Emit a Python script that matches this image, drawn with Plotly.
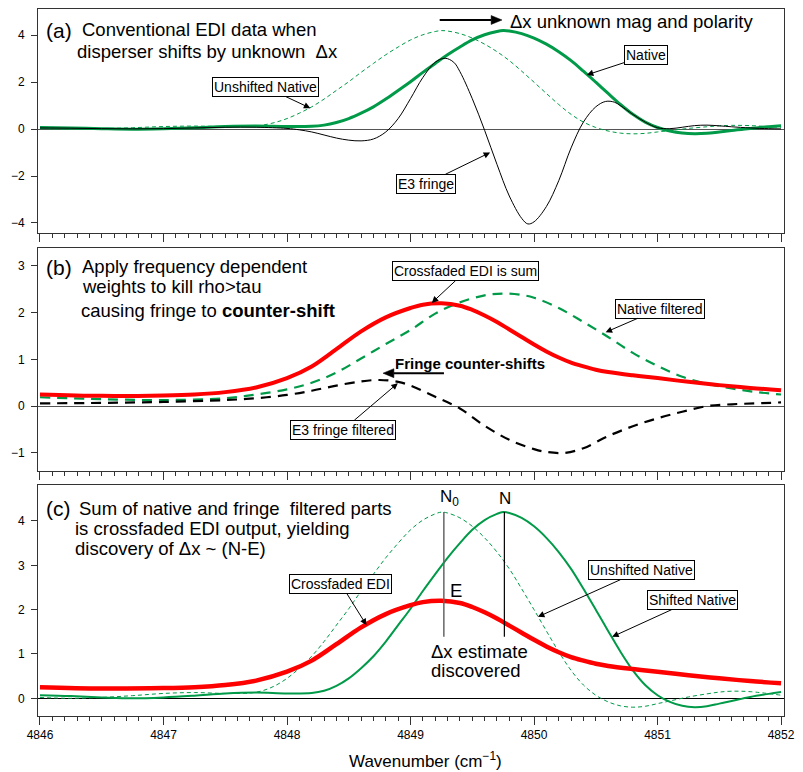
import plotly.graph_objects as go

# ---------------- data ----------------
# Native (shifted) spectrum, used in panels (a) and (c)
native_x = [4846.0, 4846.25, 4846.5, 4846.75, 4847.0, 4847.25, 4847.5, 4847.75, 4848.0, 4848.2,
            4848.3, 4848.4, 4848.5, 4848.6, 4848.7, 4848.8, 4848.9, 4849.0, 4849.1, 4849.2,
            4849.3, 4849.4, 4849.5, 4849.6, 4849.7, 4849.75, 4849.8, 4849.9, 4850.0, 4850.1,
            4850.2, 4850.3, 4850.4, 4850.5, 4850.6, 4850.7, 4850.8, 4850.9, 4851.0, 4851.1,
            4851.2, 4851.3, 4851.4, 4851.5, 4851.6, 4851.75, 4851.9, 4852.0]
native_y = [0.07, 0.05, 0.02, 0.0, 0.02, 0.06, 0.11, 0.13, 0.11, 0.12,
            0.17, 0.28, 0.45, 0.68, 0.95, 1.28, 1.65, 2.02, 2.42, 2.8,
            3.17, 3.5, 3.8, 4.02, 4.16, 4.2, 4.18, 4.07, 3.88, 3.62,
            3.3, 2.92, 2.47, 2.0, 1.52, 1.05, 0.63, 0.3, 0.07, -0.08,
            -0.17, -0.2, -0.18, -0.12, -0.06, 0.03, 0.1, 0.14]

# Unshifted native spectrum (thin dashed), panels (a) and (c)
unshifted_x = [4846.0, 4846.25, 4846.5, 4846.75, 4847.0, 4847.25, 4847.5, 4847.7, 4847.8, 4847.9,
               4848.0, 4848.1, 4848.2, 4848.3, 4848.4, 4848.5, 4848.6, 4848.7, 4848.8, 4848.9,
               4849.0, 4849.1, 4849.2, 4849.25, 4849.3, 4849.4, 4849.5, 4849.6, 4849.7, 4849.8,
               4849.9, 4850.0, 4850.1, 4850.2, 4850.3, 4850.4, 4850.5, 4850.6, 4850.7, 4850.8,
               4850.9, 4851.0, 4851.1, 4851.25, 4851.4, 4851.5, 4851.6, 4851.75, 4852.0]
unshifted_y = [0.02, 0.0, 0.02, 0.06, 0.11, 0.13, 0.11, 0.12, 0.17, 0.28,
               0.45, 0.68, 0.95, 1.28, 1.65, 2.02, 2.42, 2.8, 3.17, 3.5,
               3.8, 4.02, 4.16, 4.2, 4.18, 4.07, 3.88, 3.62, 3.3, 2.92,
               2.47, 2.0, 1.52, 1.05, 0.63, 0.3, 0.07, -0.08, -0.17, -0.2,
               -0.18, -0.12, -0.06, 0.03, 0.1, 0.14, 0.16, 0.15, 0.07]

# E3 fringe, panel (a)
fringe_x = [4846.0, 4846.25, 4846.5, 4846.75, 4847.0, 4847.25, 4847.5, 4847.75, 4848.0, 4848.1,
            4848.2, 4848.3, 4848.4, 4848.5, 4848.6, 4848.7, 4848.8, 4848.9, 4849.0, 4849.1,
            4849.2, 4849.28, 4849.35, 4849.4, 4849.5, 4849.6, 4849.7, 4849.8, 4849.9, 4849.95,
            4850.0, 4850.1, 4850.2, 4850.3, 4850.4, 4850.5, 4850.58, 4850.65, 4850.7, 4850.8,
            4850.9, 4851.0, 4851.1, 4851.2, 4851.3, 4851.4, 4851.5, 4851.6, 4851.75, 4851.9, 4852.0]
fringe_y = [0.05, 0.04, 0.02, 0.01, 0.02, 0.05, 0.08, 0.08, 0.03, -0.03,
            -0.12, -0.25, -0.38, -0.47, -0.5, -0.42, -0.12, 0.45, 1.3, 2.2,
            2.85, 3.02, 2.85, 2.45, 1.3, -0.05, -1.5, -2.85, -3.8, -4.04,
            -3.95, -3.3, -2.2, -0.8, 0.3, 0.95, 1.18, 1.15, 1.0, 0.63,
            0.3, 0.06, 0.02, 0.08, 0.15, 0.17, 0.14, 0.1, 0.05, 0.02, 0.01]

# Crossfaded EDI (sum), panels (b) and (c)
cross_x = [4846.0, 4846.5, 4847.0, 4847.25, 4847.5, 4847.75, 4848.0, 4848.2, 4848.4, 4848.6,
           4848.8, 4849.0, 4849.1, 4849.25, 4849.4, 4849.5, 4849.6, 4849.7, 4849.8, 4849.9,
           4850.0, 4850.1, 4850.2, 4850.3, 4850.4, 4850.5, 4850.6, 4850.8, 4851.0, 4851.25,
           4851.5, 4851.75, 4852.0]
cross_y = [0.25, 0.22, 0.23, 0.25, 0.3, 0.4, 0.6, 0.85, 1.22, 1.6,
           1.9, 2.1, 2.17, 2.2, 2.15, 2.06, 1.94, 1.8, 1.64, 1.48,
           1.32, 1.17, 1.04, 0.93, 0.85, 0.78, 0.73, 0.66, 0.6, 0.52,
           0.45, 0.39, 0.34]

# Native filtered, panel (b)
natfilt_x = [4846.0, 4846.5, 4847.0, 4847.5, 4847.75, 4848.0, 4848.2, 4848.4, 4848.6, 4848.8,
             4849.0, 4849.2, 4849.4, 4849.6, 4849.75, 4849.9, 4850.0, 4850.2, 4850.4, 4850.6,
             4850.8, 4851.0, 4851.2, 4851.4, 4851.6, 4851.8, 4852.0]
natfilt_y = [0.19, 0.15, 0.13, 0.17, 0.25, 0.36, 0.5, 0.72, 1.02, 1.33,
             1.63, 1.98, 2.22, 2.37, 2.41, 2.38, 2.32, 2.1, 1.8, 1.48,
             1.14, 0.86, 0.63, 0.48, 0.38, 0.3, 0.25]

# E3 fringe filtered, panel (b)
frfilt_x = [4846.0, 4846.5, 4847.0, 4847.5, 4847.75, 4848.0, 4848.2, 4848.4, 4848.6, 4848.75,
            4848.9, 4849.0, 4849.2, 4849.4, 4849.6, 4849.8, 4850.0, 4850.1, 4850.25, 4850.4,
            4850.6, 4850.8, 4851.0, 4851.2, 4851.4, 4851.6, 4851.8, 4852.0]
frfilt_y = [0.06, 0.07, 0.09, 0.13, 0.17, 0.24, 0.33, 0.44, 0.53, 0.56,
            0.52, 0.44, 0.2, -0.05, -0.42, -0.72, -0.92, -0.98, -1.0, -0.9,
            -0.64, -0.43, -0.26, -0.12, 0.0, 0.04, 0.06, 0.08]

# Marker lines in panel (c): N0 (unshifted peak), N (shifted peak)
n0_pos = 4849.27
n_pos = 4849.76
marker_top = 4.2
marker_bottom = 1.39

x_ticks_major = 1
x_ticks_minor = 0.1

# ---------------- layout geometry ----------------
W, H = 803, 772
ML, MR, MT, MB = 38, 11, 8, 56
X_RANGE = [4845.984, 4852.024]
A_RANGE = [-4.413, 5.119]
B_RANGE = [-1.395, 3.385]
C_RANGE = [-0.399, 4.811]
A_PX = (8, 232)
B_PX = (247.3, 471)
C_PX = (484.7, 716)
PH = H - MT - MB


def dom(px):
    top, bot = px
    return [(H - MB - bot) / PH, (H - MB - top) / PH]


def wx(px):
    return X_RANGE[0] + (px - ML) / (W - ML - MR) * (X_RANGE[1] - X_RANGE[0])


def py2y(py, pxr, rng):
    top, bot = pxr
    return rng[1] - (py - top) / (bot - top) * (rng[1] - rng[0])


ya = lambda p: py2y(p, A_PX, A_RANGE)
yb = lambda p: py2y(p, B_PX, B_RANGE)
yc = lambda p: py2y(p, C_PX, C_RANGE)

FONT = "Liberation Sans, Arial, Helvetica, sans-serif"
GREEN = "#009a48"
RED = "#ff0000"
FRAME = "#333333"

fig = go.Figure()

# panel (a)
fig.add_trace(go.Scatter(x=unshifted_x, y=unshifted_y, xaxis="x", yaxis="y", mode="lines",
                         line=dict(color=GREEN, width=1, dash="4px,3px", shape="spline", smoothing=1)))
fig.add_trace(go.Scatter(x=native_x, y=native_y, xaxis="x", yaxis="y", mode="lines",
                         line=dict(color=GREEN, width=3, shape="spline", smoothing=1)))
fig.add_trace(go.Scatter(x=fringe_x, y=fringe_y, xaxis="x", yaxis="y", mode="lines",
                         line=dict(color="black", width=1, shape="spline", smoothing=1)))
# panel (b)
fig.add_trace(go.Scatter(x=natfilt_x, y=natfilt_y, xaxis="x2", yaxis="y2", mode="lines",
                         line=dict(color=GREEN, width=2.2, dash="10px,7px", shape="spline", smoothing=1)))
fig.add_trace(go.Scatter(x=frfilt_x, y=frfilt_y, xaxis="x2", yaxis="y2", mode="lines",
                         line=dict(color="black", width=2.2, dash="10px,7px", shape="spline", smoothing=1)))
fig.add_trace(go.Scatter(x=cross_x, y=cross_y, xaxis="x2", yaxis="y2", mode="lines",
                         line=dict(color=RED, width=4, shape="spline", smoothing=1)))
# panel (c)
fig.add_trace(go.Scatter(x=unshifted_x, y=unshifted_y, xaxis="x3", yaxis="y3", mode="lines",
                         line=dict(color=GREEN, width=1, dash="4px,3px", shape="spline", smoothing=1)))
fig.add_trace(go.Scatter(x=native_x, y=native_y, xaxis="x3", yaxis="y3", mode="lines",
                         line=dict(color=GREEN, width=2, shape="spline", smoothing=1)))
fig.add_trace(go.Scatter(x=cross_x, y=cross_y, xaxis="x3", yaxis="y3", mode="lines",
                         line=dict(color=RED, width=4.5, shape="spline", smoothing=1)))

# marker lines N0, N
fig.add_shape(type="line", xref="x3", yref="y3", x0=n0_pos, x1=n0_pos, y0=marker_bottom, y1=marker_top,
              line=dict(color="#666666", width=1.5))
fig.add_shape(type="line", xref="x3", yref="y3", x0=n_pos, x1=n_pos, y0=marker_bottom, y1=marker_top,
              line=dict(color="black", width=1.2))


def xaxis(anchor, labels):
    return dict(domain=[0, 1], anchor=anchor, range=X_RANGE, showgrid=False, zeroline=False,
                showline=True, mirror=True, linecolor=FRAME, linewidth=1,
                ticks="outside", ticklen=8, tickwidth=1, tickcolor=FRAME,
                tick0=4846, dtick=x_ticks_major, showticklabels=labels,
                tickfont=dict(size=12, color="black", family=FONT),
                minor=dict(dtick=x_ticks_minor, tick0=4846, ticks="outside", ticklen=4,
                           tickwidth=1, tickcolor=FRAME, showgrid=False))


def yaxis(anchor, rng, dt, px, zc):
    return dict(domain=dom(px), anchor=anchor, range=rng, showgrid=False,
                zeroline=True, zerolinecolor=zc, zerolinewidth=1,
                showline=True, mirror=True, linecolor=FRAME, linewidth=1,
                ticks="outside", ticklen=6, tickwidth=1, tickcolor=FRAME, dtick=dt,
                tickfont=dict(size=12, color="black", family=FONT), ticklabelstandoff=4)


fig.update_layout(
    width=W, height=H, margin=dict(l=ML, r=MR, t=MT, b=MB, pad=0),
    paper_bgcolor="white", plot_bgcolor="white", showlegend=False,
    font=dict(family=FONT, color="black"),
    xaxis=xaxis("y", False), xaxis2=xaxis("y2", False), xaxis3=xaxis("y3", True),
    yaxis=yaxis("x", A_RANGE, 2, A_PX, "#555555"),
    yaxis2=yaxis("x2", B_RANGE, 1, B_PX, "#555555"),
    yaxis3=yaxis("x3", C_RANGE, 1, C_PX, "black"),
)

ann = []


def text(s, px, py, yf, xr, yr, size=18.5, xanchor="left"):
    ann.append(dict(text=s, x=wx(px), y=yf(py), xref=xr, yref=yr, showarrow=False,
                    xanchor=xanchor, yanchor="middle", font=dict(size=size, family=FONT, color="black")))


def box(s, cx, cy, tx, ty, yf, xr, yr):
    ann.append(dict(text=s, x=wx(tx), y=yf(ty), xref=xr, yref=yr, showarrow=True,
                    ax=cx - tx, ay=cy - ty, axref="pixel", ayref="pixel",
                    arrowhead=2, arrowsize=1.3, arrowwidth=1, arrowcolor="black",
                    bgcolor="white", bordercolor="black", borderwidth=1, borderpad=1,
                    font=dict(size=14, family=FONT, color="black")))


def arrow(tx, ty, sx, yf, xr, yr, head=11, half=4.5, w=2):
    # horizontal arrow drawn as shapes: shaft line + filled triangular head
    d = 1 if tx > sx else -1
    base = tx - d * head
    fig.add_shape(type="line", xref=xr, yref=yr, x0=wx(sx), x1=wx(base), y0=yf(ty), y1=yf(ty),
                  line=dict(color="black", width=w))
    path = "M {} {} L {} {} L {} {} Z".format(wx(tx), yf(ty), wx(base), yf(ty - half),
                                             wx(base), yf(ty + half))
    fig.add_shape(type="path", xref=xr, yref=yr, path=path, fillcolor="black",
                  line=dict(color="black", width=0.5))


NB = "\u00a0"
# panel (a)
text("(a)", 44, 30, ya, "x", "y", size=21)
text("Conventional EDI data when", 80, 29, ya, "x", "y")
text("disperser shifts by unknown" + NB + NB + "Δx", 75, 51, ya, "x", "y")
arrow(507, 19, 444, ya, "x", "y")
text("Δx unknown mag and polarity", 513, 21, ya, "x", "y")
box("Native", 652, 54.5, 592.7, 74, ya, "x", "y")
box("Unshifted Native", 268, 86, 313.3, 107.3, ya, "x", "y")
box("E3 fringe", 430.7, 183, 495, 151.7, ya, "x", "y")
# panel (b)
text("(b)", 44, 267, yb, "x2", "y2", size=21)
text("Apply frequency dependent", 80, 266, yb, "x2", "y2")
text("weights to kill rho&gt;tau", 80, 286, yb, "x2", "y2")
text("causing fringe to <b>counter-shift</b>", 79, 309.5, yb, "x2", "y2")
box("Crossfaded EDI is sum", 470, 270.5, 436, 302.3, yb, "x2", "y2")
box("Native filtered", 665.7, 308.3, 611.7, 331.7, yb, "x2", "y2")
text("<b>Fringe counter-shifts</b>", 474.5, 363, yb, "x2", "y2", size=15, xanchor="center")
arrow(386.7, 372.7, 448.3, yb, "x2", "y2")
box("E3 fringe filtered", 347, 429.3, 401.7, 382.7, yb, "x2", "y2")
# panel (c)
text("(c)", 44, 508, yc, "x3", "y3", size=21)
text("Sum of native and fringe" + NB + " filtered parts", 77, 508, yc, "x3", "y3")
text("is crossfaded EDI output, yielding", 73, 528, yc, "x3", "y3")
text("discovery of Δx ~ (N-E)", 73, 548, yc, "x3", "y3")
box("Crossfaded EDI", 344.5, 584, 370, 625, yc, "x3", "y3")
box("Unshifted Native", 647, 570, 543.3, 616.7, yc, "x3", "y3")
box("Shifted Native", 698.7, 600, 618.3, 636.7, yc, "x3", "y3")
text("N<sub>0</sub>", 442.5, 498, yc, "x3", "y3", size=17)
text("N", 510.5, 498, yc, "x3", "y3", size=17, xanchor="center")
text("E", 452.5, 590, yc, "x3", "y3")
text("Δx estimate", 433, 651, yc, "x3", "y3")
text("discovered", 433, 670, yc, "x3", "y3")

# x axis title
ann.append(dict(text="Wavenumber (cm<sup>−1</sup>)", x=(430 - ML) / (W - ML - MR), y=(H - MB - 760) / PH,
                xref="paper", yref="paper", showarrow=False, xanchor="center", yanchor="middle",
                font=dict(size=17, family=FONT, color="black")))

fig.update_layout(annotations=ann)
fig.write_html("out.html", config={"displayModeBar": False},
               post_script="document.body.style.margin='0px';document.body.style.padding='0px';"
                           "document.body.style.overflow='hidden';")
